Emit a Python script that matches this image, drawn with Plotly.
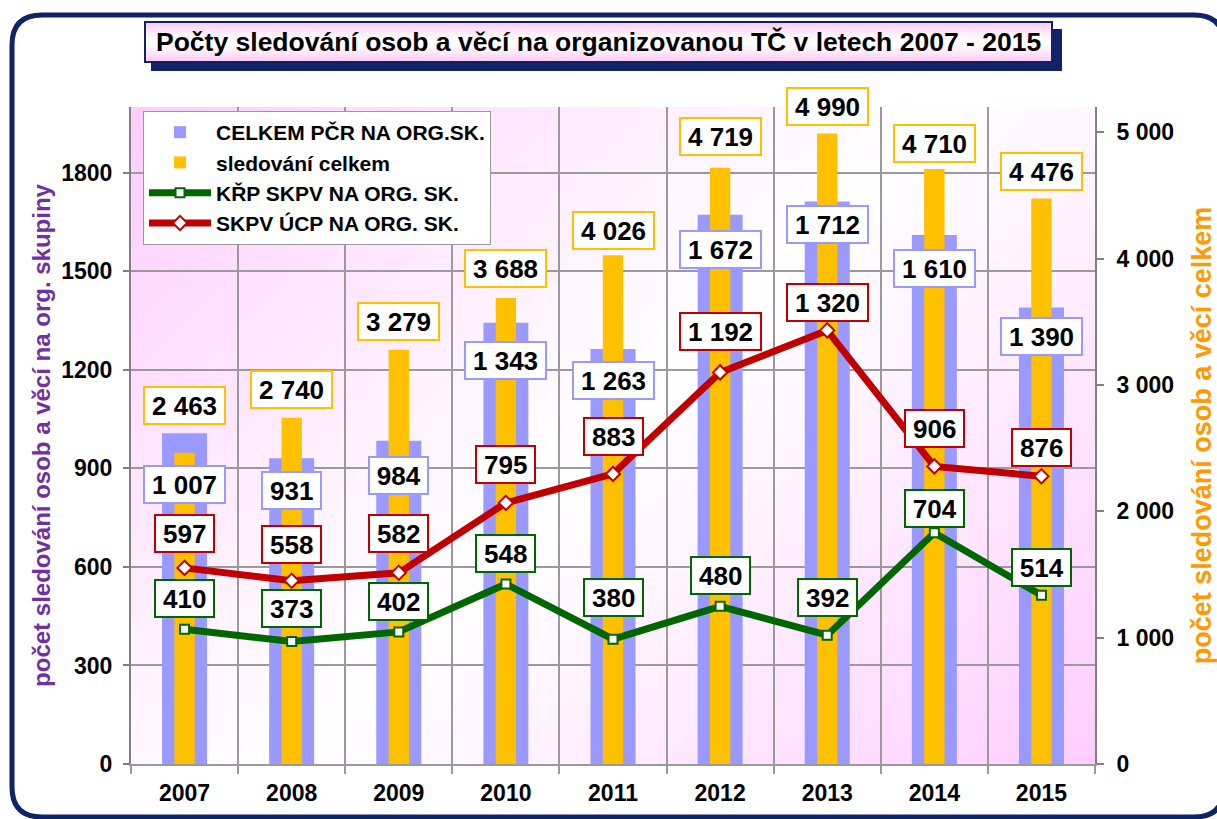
import plotly.graph_objects as go

# ---- data -------------------------------------------------------------
years = ["2007", "2008", "2009", "2010", "2011", "2012", "2013", "2014", "2015"]
celkem_pcr = [1007, 931, 984, 1343, 1263, 1672, 1712, 1610, 1390]      # CELKEM PČR NA ORG.SK.
sledovani_celkem = [2463, 2740, 3279, 3688, 4026, 4719, 4990, 4710, 4476]  # sledování celkem
krp_skpv = [410, 373, 402, 548, 380, 480, 392, 704, 514]                # KŘP SKPV NA ORG. SK.
skpv_ucp = [597, 558, 582, 795, 883, 1192, 1320, 906, 876]              # SKPV ÚCP NA ORG. SK.

left_ticks = [0, 300, 600, 900, 1200, 1500, 1800]
right_ticks = [0, 1000, 2000, 3000, 4000, 5000]

TITLE = "Počty sledování osob a věcí na organizovanou TČ v letech 2007 - 2015"

# ---- geometry / styling ----------------------------------------------
W, H = 1217, 819
ML, MR, MT, MB = 131, 122, 107, 55
PW, PH = W - ML - MR, H - MT - MB
FONT = "Liberation Sans, Arial, sans-serif"
NAVY = "#0f2366"
BLUE = "#9999ff"
ORANGE = "#ffc000"
GREEN = "#006600"
RED = "#c00000"
GRID = "#9a9a9a"
Y_MAX, Y2_MAX = 2000, 5200

# per-label vertical offsets (px) of the value boxes
off_blue = [-51, -32, -35, -38, -31, -35, -23, -33, -29]
off_orange = [47, 28, 28, 30, 25, 31, 27, 25, 27]
off_red = [34, 36, 39, 38, 37, 41, 28, 38, 29]
off_green = [31, 33, 30, 30, 42, 31, 38, 24, 28]


def px(x):
    return (x - ML) / PW


def py(y):
    return (H - MB - y) / PH


def fmt(v):
    return f"{v:,}".replace(",", " ")


def text_width(s, size):
    digits = sum(c.isdigit() for c in s)
    spaces = s.count(" ")
    return digits * 0.556 * size + spaces * 0.278 * size


fig = go.Figure()

fig.add_trace(go.Bar(
    x=years, y=celkem_pcr, name="CELKEM PČR NA ORG.SK.",
    marker=dict(color=BLUE, line=dict(width=0)), width=0.42, yaxis="y",
))
fig.add_trace(go.Bar(
    x=years, y=sledovani_celkem, name="sledování celkem",
    marker=dict(color=ORANGE, line=dict(width=0)), width=0.19, yaxis="y2",
))
fig.add_trace(go.Scatter(
    x=years, y=krp_skpv, name="KŘP SKPV NA ORG. SK.", mode="lines+markers",
    line=dict(color=GREEN, width=7),
    marker=dict(symbol="square", size=9, color="white", line=dict(color=GREEN, width=2)),
    yaxis="y3",
))
fig.add_trace(go.Scatter(
    x=years, y=skpv_ucp, name="SKPV ÚCP NA ORG. SK.", mode="lines+markers",
    line=dict(color=RED, width=7),
    marker=dict(symbol="diamond", size=11, color="white", line=dict(color=RED, width=2)),
    yaxis="y3",
))

# ---- value boxes -------------------------------------------------------
LABEL_SIZE = 26
annotations = []
series = [
    (celkem_pcr, "y", BLUE, off_blue),
    (sledovani_celkem, "y2", ORANGE, off_orange),
    (skpv_ucp, "y", RED, off_red),
    (krp_skpv, "y", GREEN, off_green),
]
for values, yref, color, offs in series:
    for i, (v, o) in enumerate(zip(values, offs)):
        t = fmt(v)
        annotations.append(dict(
            x=i, y=v, xref="x", yref=yref, yshift=o, showarrow=False,
            text=f"<b>{t}</b>", font=dict(family=FONT, size=LABEL_SIZE, color="black"),
            bgcolor="white", bordercolor=color, borderwidth=2, borderpad=2,
            width=text_width(t, LABEL_SIZE) + 10, height=31,
            xanchor="center", yanchor="middle",
        ))

# title
annotations.append(dict(
    x=px(598.5), y=py(42), xref="paper", yref="paper", showarrow=False,
    text=f"<b>{TITLE}</b>", font=dict(family=FONT, size=26.5, color="black"),
    xanchor="center", yanchor="middle",
))

# ---- decorative shapes -------------------------------------------------
shapes = []

# diagonal pink-white-pink background of the plot area
N = 60
pink = (255, 204, 255)
xs_per_px = 9 / PW
ys_per_px = Y_MAX / PH
span = PW + PH
m = 40
for i in range(N):
    d0 = span * i / N
    d1 = span * (i + 1) / N + 1
    s = (i + 0.5) / N
    p = abs(2 * s - 1) ** 1.1
    col = tuple(round(255 * (1 - p) + c * p) for c in pink)
    pts = [(d0 + m, -m), (d1 + m, -m), (d1 - PH - m, PH + m), (d0 - PH - m, PH + m)]
    path = "M" + " L".join(
        f"{-0.5 + a * xs_per_px:.4f},{Y_MAX - b * ys_per_px:.3f}" for a, b in pts
    ) + " Z"
    shapes.append(dict(type="path", path=path, xref="x", yref="y", layer="below",
                       fillcolor="rgb(%d,%d,%d)" % col, line=dict(width=0)))

# rounded outer frame
fx0, fx1, fy0, fy1, r = 12, 1224, 15, 817, 30
frame = (
    f"M{px(fx0 + r)},{py(fy0)} L{px(fx1 - r)},{py(fy0)} "
    f"Q{px(fx1)},{py(fy0)} {px(fx1)},{py(fy0 + r)} "
    f"L{px(fx1)},{py(fy1 - r)} Q{px(fx1)},{py(fy1)} {px(fx1 - r)},{py(fy1)} "
    f"L{px(fx0 + r)},{py(fy1)} Q{px(fx0)},{py(fy1)} {px(fx0)},{py(fy1 - r)} "
    f"L{px(fx0)},{py(fy0 + r)} Q{px(fx0)},{py(fy0)} {px(fx0 + r)},{py(fy0)} Z"
)
shapes.append(dict(type="path", path=frame, xref="paper", yref="paper", layer="below",
                   line=dict(color=NAVY, width=5), fillcolor="rgba(0,0,0,0)"))

# title box: shadow, then gradient face with border
shapes.append(dict(type="rect", xref="paper", yref="paper", layer="above",
                   x0=px(151), x1=px(1062), y0=py(29), y1=py(71),
                   fillcolor=NAVY, line=dict(width=0)))
tb_top, tb_bot = 22, 62
NS = 16
for i in range(NS):
    a = tb_top + (tb_bot - tb_top) * i / NS
    b = tb_top + (tb_bot - tb_top) * (i + 1) / NS + 0.6
    s = (i + 0.5) / NS
    p = abs(2 * s - 1) ** 1.3
    col = tuple(round(255 * (1 - p) + c * p) for c in (255, 200, 245))
    shapes.append(dict(type="rect", xref="paper", yref="paper", layer="above",
                       x0=px(145), x1=px(1052), y0=py(b), y1=py(a),
                       fillcolor="rgb(%d,%d,%d)" % col, line=dict(width=0)))
shapes.append(dict(type="rect", xref="paper", yref="paper", layer="above",
                   x0=px(145), x1=px(1052), y0=py(tb_bot), y1=py(tb_top),
                   fillcolor="rgba(0,0,0,0)", line=dict(color=NAVY, width=2)))

tickfont = dict(family=FONT, size=23, color="black", weight="bold")

fig.update_layout(
    width=W, height=H,
    margin=dict(l=ML, r=MR, t=MT, b=MB, pad=0, autoexpand=False),
    paper_bgcolor="white", plot_bgcolor="rgba(0,0,0,0)",
    separators=", ",
    barmode="overlay",
    showlegend=True,
    legend=dict(
        x=px(143), y=py(111), xanchor="left", yanchor="top",
        bgcolor="white", bordercolor="#999999", borderwidth=1,
        font=dict(family=FONT, size=21, color="black", weight="bold"),
        itemwidth=62, tracegroupgap=0,
    ),
    xaxis=dict(
        type="category", range=[-0.5, 8.5], tickson="boundaries", automargin=False,
        showgrid=True, gridcolor=GRID, gridwidth=1.5,
        ticks="outside", ticklen=8, tickcolor=GRID, tickwidth=1.5,
        showline=True, linecolor=GRID, linewidth=2,
        tickfont=tickfont, ticklabelstandoff=7,
    ),
    yaxis=dict(
        range=[0, Y_MAX], tickvals=left_ticks, tickformat="d", automargin=False,
        showgrid=True, gridcolor=GRID, gridwidth=1.5, zeroline=False,
        ticks="outside", ticklen=6, tickcolor="#808080", tickwidth=1.5,
        showline=True, linecolor="#808080", linewidth=2,
        tickfont=tickfont, ticklabelstandoff=6,
        title=dict(text="<b>počet sledování osob a věcí na org. skupiny</b>",
                   font=dict(family=FONT, size=24, color="#7030a0"), standoff=4),
    ),
    yaxis2=dict(
        overlaying="y", side="right", range=[0, Y2_MAX], tickvals=right_ticks,
        tickformat=",d", showgrid=False, zeroline=False, automargin=False,
        ticks="outside", ticklen=7, tickcolor="#808080", tickwidth=1.5,
        showline=True, linecolor="#808080", linewidth=2,
        tickfont=tickfont, ticklabelstandoff=8,
        title=dict(text="<b>počet sledování osob a věcí celkem</b>",
                   font=dict(family=FONT, size=27, color="#ff9900"), standoff=19),
    ),
    yaxis3=dict(overlaying="y", range=[0, Y_MAX], visible=False),
    annotations=annotations,
    shapes=shapes,
)

fig.write_html("out.html")
